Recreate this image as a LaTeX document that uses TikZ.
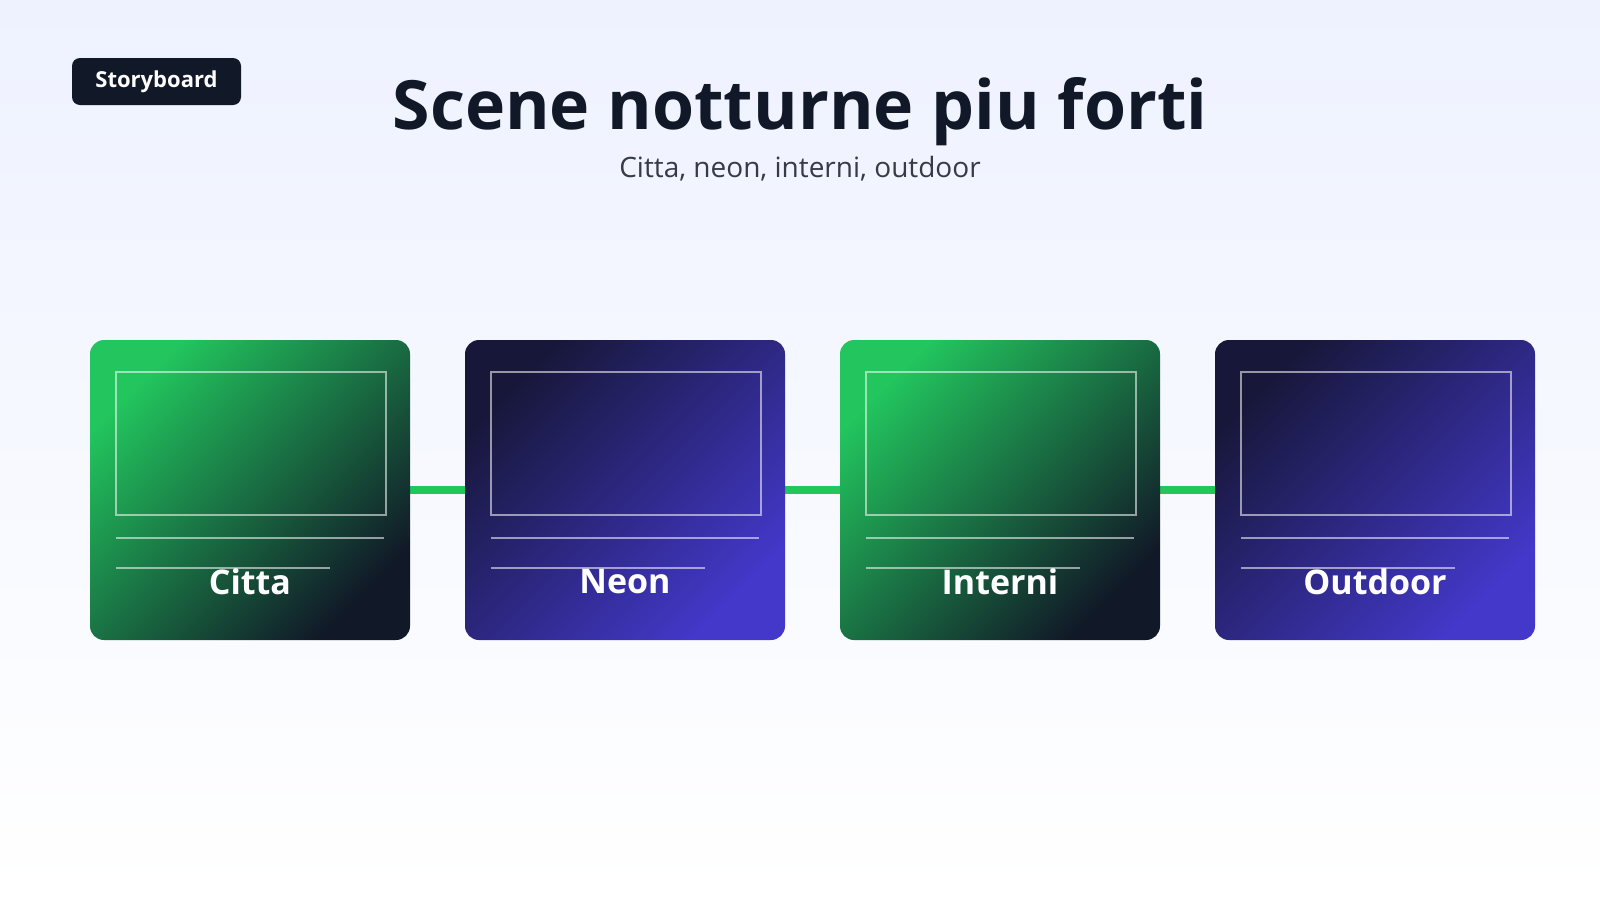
\documentclass[tikz,border=0pt]{standalone}
\usepackage{fontspec}
\setmainfont{Open Sans}
\definecolor{ink}{HTML}{111827}
\definecolor{lime}{HTML}{22C55E}
\definecolor{indigo}{HTML}{4338CA}
\definecolor{night}{HTML}{171739}
\definecolor{bgtop}{HTML}{EEF2FF}
\tikzset{
  card/.style={rounded corners=7pt},
  greencard/.style={card, left color=lime, right color=ink, shading angle=45},
  bluecard/.style={card, left color=night, right color=indigo, shading angle=45},
  frame/.style={draw=white, draw opacity=.55, line width=1.4pt},
  link/.style={draw=lime, line width=4pt, line cap=round},
  label/.style={text=white, font=\bfseries\fontsize{17}{20}\selectfont},
}
\begin{document}
\begin{tikzpicture}[x=0.5pt,y=-0.5pt]
  \useasboundingbox (0,0) rectangle (1600,900);
  \shade[top color=bgtop, bottom color=white] (0,0) rectangle (1600,900);
  % badge and title
  \node[fill=ink, rounded corners=4pt, text=white, font=\bfseries\fontsize{11}{13}\selectfont,
    minimum width=84.5pt, minimum height=23.5pt] (badge) at (156.5,81.5) {Storyboard};
  \node[text=ink, font=\bfseries\fontsize{34}{40}\selectfont] (title) at (800,112) {Scene notturne piu forti};
  \node[text=ink!85, font=\fontsize{14}{17}\selectfont] (sub) at (800,169) {Citta, neon, interni, outdoor};
  % connectors behind the cards
  \foreach \i in {0,...,3}{
    \coordinate (in\i) at (90+375*\i,490);
    \coordinate (out\i) at (410+375*\i,490);
  }
  \foreach \a/\b in {0/1,1/2,2/3}
    \draw[link] (out\a) -- (in\b);
  % cards
  \foreach \i/\name/\kind in {0/Citta/greencard,1/Neon/bluecard,2/Interni/greencard,3/Outdoor/bluecard}{
    \pgfmathsetmacro{\xl}{90+375*\i}
    \shade[\kind] (\xl,340) rectangle ++(320,300);
    \draw[frame] (\xl+26,372) rectangle ++(270,143);
    \draw[frame] (\xl+26,538) -- ++(268,0);
    \draw[frame] (\xl+26,568) -- ++(214,0);
    \node[label] (card\i) at (\xl+160,582) {\name};
  }
\end{tikzpicture}
\end{document}
